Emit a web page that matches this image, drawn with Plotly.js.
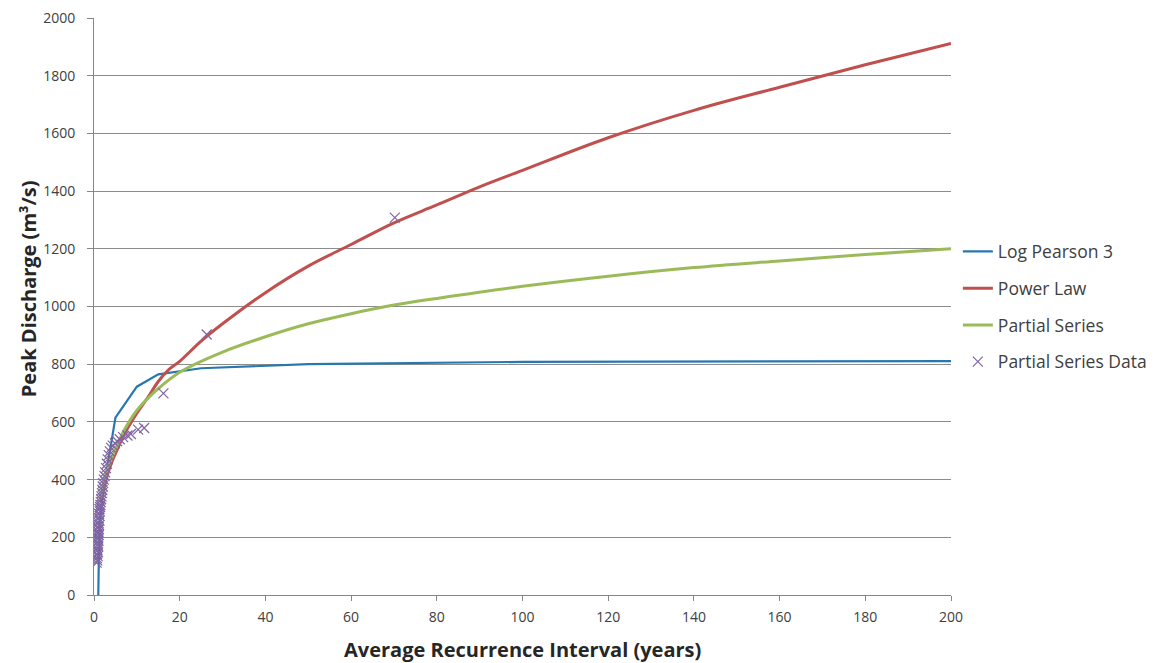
<!DOCTYPE html>
<html>
<head>
<meta charset="utf-8">
<script src="https://cdn.plot.ly/plotly-3.0.1.min.js"></script>
<style>
  html, body { margin: 0; padding: 0; background: #ffffff; }
  #chart { width: 1173px; height: 663px; }
</style>
</head>
<body>
<div id="chart"></div>
<script>
// Log Pearson 3 fitted discharges by recurrence interval
const lp3Years = [1.0, 1.1, 1.25, 2, 5, 10, 15, 25, 50, 100, 200];
const lp3Flow  = [0, 120, 240, 345, 615, 722, 765, 786, 800, 808, 811];

// Power-law fit
const powerYears = [1.5, 2, 3, 4, 5, 7, 10, 12.5, 15, 17.5, 20, 25, 30, 40, 50, 60, 70, 80, 90, 100, 120, 140, 160, 180, 200];
const powerFlow  = [320, 350, 410, 455, 490, 555, 630, 683, 740, 782, 810, 880, 940, 1048, 1140, 1215, 1290, 1352, 1415, 1472, 1585, 1680, 1760, 1838, 1912];

// Partial series fit
const partialYears = [1.5, 2, 3, 4, 5, 7, 10, 15, 20, 30, 40, 50, 60, 70, 80, 100, 120, 140, 160, 180, 200];
const partialFlow  = [330, 370, 430, 470, 505, 570, 640, 715, 772, 842, 895, 940, 975, 1005, 1028, 1070, 1105, 1135, 1158, 1180, 1200];

// Partial series observations (plotting positions)
const obsYears = [0.62, 0.75, 0.68, 0.85, 0.7, 0.95, 0.8, 0.72, 1.0, 0.88, 0.78, 1.05, 0.92, 0.83, 1.1, 0.98, 0.9, 1.15, 1.02, 1.2, 1.08, 1.25, 1.12, 1.3, 1.18, 1.35, 1.28, 1.42, 1.5,
                  1.58, 1.66, 1.75, 1.85, 1.95, 2.05, 2.15, 2.3, 2.45, 2.6, 2.8, 3.0, 3.2, 3.45, 3.7, 4.0, 4.4, 4.9, 5.4, 6.0, 6.8, 7.8, 8.6, 10.3, 11.7, 16.2, 26.3, 70.2];
const obsFlow  = [112, 120, 128, 135, 142, 148, 155, 162, 168, 175, 182, 188, 195, 202, 208, 215, 222, 228, 235, 242, 250, 258, 266, 274, 282, 290, 298, 305, 312,
                  322, 332, 342, 353, 364, 376, 388, 400, 412, 425, 440, 455, 470, 485, 498, 510, 518, 526, 533, 540, 547, 553, 558, 573, 579, 699, 903, 1308];

const xTitle = 'Average Recurrence Interval (years)';
const yTitle = 'Peak Discharge (m³/s)';

const traces = [
  { x: lp3Years, y: lp3Flow, name: 'Log Pearson 3', mode: 'lines', legendgroup: 'a',
    line: { color: '#2878b0', width: 2.2 } },
  { x: powerYears, y: powerFlow, name: 'Power Law', mode: 'lines', legendgroup: 'b', line: { color: '#c0504d', width: 3, shape: 'spline' } },
  { x: partialYears, y: partialFlow, name: 'Partial Series', mode: 'lines', legendgroup: 'c', line: { color: '#9bbb59', width: 3, shape: 'spline' } },
  { x: obsYears, y: obsFlow, name: 'Partial Series Data', mode: 'markers', legendgroup: 'd',
    marker: { symbol: 'x-thin-open', size: 10, color: '#8064a2', line: { color: '#8064a2', width: 1.2 } } }
];

const titleFont = { family: 'Open Sans, sans-serif', size: 20, color: '#262626', weight: 'bold' };

const layout = {
  width: 1173, height: 663,
  margin: { l: 94, r: 222, t: 18, b: 68 },
  paper_bgcolor: '#ffffff', plot_bgcolor: '#ffffff',
  font: { family: 'Open Sans, sans-serif', color: '#404040' },
  showlegend: true,
  legend: {
    x: 1.008, xanchor: 'left', y: 0.5, yanchor: 'middle',
    font: { size: 17.5, color: '#404040' },
    traceorder: 'grouped', tracegroupgap: 11, itemwidth: 30
  },
  xaxis: {
    range: [0, 200], tick0: 0, dtick: 20,
    showgrid: false, zeroline: false,
    showline: true, linecolor: '#868686', linewidth: 1,
    ticks: 'outside', ticklen: 5, tickcolor: '#868686',
    ticklabelstandoff: 4,
    tickfont: { size: 14, color: '#404040' }
  },
  yaxis: {
    range: [0, 2000], tick0: 0, dtick: 200,
    showgrid: true, gridcolor: '#8c8c8c', gridwidth: 1, zeroline: false,
    showline: true, linecolor: '#868686', linewidth: 1,
    ticks: 'outside', ticklen: 6, tickcolor: '#868686',
    ticklabelstandoff: 9,
    tickfont: { size: 14, color: '#404040' }
  },
  annotations: [
    { text: xTitle, xref: 'paper', yref: 'paper', x: 0.5, y: -0.095, xanchor: 'center', yanchor: 'middle',
      showarrow: false, font: titleFont },
    { text: yTitle, xref: 'paper', yref: 'paper', x: -0.077, y: 0.53, xanchor: 'center', yanchor: 'middle',
      textangle: -90, showarrow: false, font: titleFont }
  ]
};

Plotly.newPlot('chart', traces, layout, { displayModeBar: false, staticPlot: true });
</script>
</body>
</html>
